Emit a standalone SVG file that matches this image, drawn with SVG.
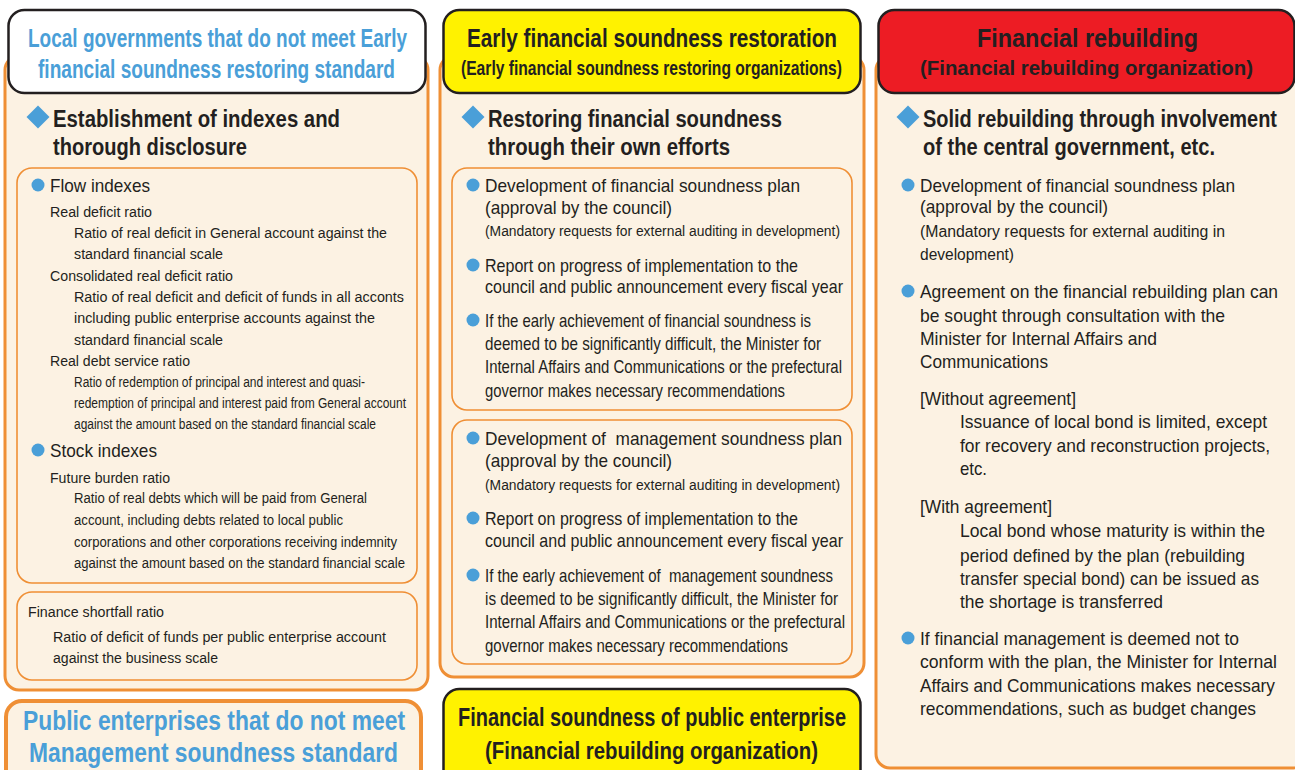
<svg xmlns="http://www.w3.org/2000/svg" width="1295" height="770" viewBox="0 0 1295 770">
<style>
text{font-family:"Liberation Sans",Arial,sans-serif;fill:#231f20}
.hb{font-weight:bold;fill:#4a9fd8}
.bk{font-weight:bold}
.pre{white-space:pre}
.outer{fill:#fcf2e3;stroke:#ef8f35;stroke-width:3}
.inner{fill:none;stroke:#ef8f35;stroke-width:1.6}
.hdr{stroke:#231f20;stroke-width:2.5}
.dot{fill:#4a9fd8}
.f26{font-size:25.5px}.f23{font-size:23px}.f22{font-size:21px}.f18{font-size:18.5px}.f16{font-size:16px}.f15{font-size:15.5px}
</style>
<rect width="1295" height="770" fill="#ffffff"/>
<defs>
<path id="dia" d="M0,-11.5 L11.5,0 L0,11.5 L-11.5,0 Z" fill="#4a9fd8"/>
</defs>

<g id="col1">
<rect class="outer" x="5" y="56" width="423" height="634" rx="14"/>
<rect class="hdr" x="8.5" y="10" width="417" height="83" rx="16" fill="#ffffff"/>
<text class="hb f26" x="28" y="47" textLength="379" lengthAdjust="spacingAndGlyphs">Local governments that do not meet Early</text>
<text class="hb f26" x="38" y="78" textLength="357" lengthAdjust="spacingAndGlyphs">financial soundness restoring standard</text>
<use href="#dia" x="38" y="117"/>
<text class="bk f23" x="53" y="127" textLength="287" lengthAdjust="spacingAndGlyphs">Establishment of indexes and</text>
<text class="bk f23" x="53" y="155" textLength="194" lengthAdjust="spacingAndGlyphs">thorough disclosure</text>
<rect class="inner" x="17" y="168" width="400" height="415" rx="15"/>
<circle class="dot" cx="38" cy="185" r="6.5"/>
<text class="f18" x="50" y="192" textLength="100" lengthAdjust="spacingAndGlyphs">Flow indexes</text>
<text class="f15" x="50" y="217" textLength="102" lengthAdjust="spacingAndGlyphs">Real deficit ratio</text>
<text class="f15" x="74" y="238" textLength="313" lengthAdjust="spacingAndGlyphs">Ratio of real deficit in General account against the</text>
<text class="f15" x="74" y="259" textLength="149" lengthAdjust="spacingAndGlyphs">standard financial scale</text>
<text class="f15" x="50" y="281" textLength="183" lengthAdjust="spacingAndGlyphs">Consolidated real deficit ratio</text>
<text class="f15" x="74" y="302" textLength="330" lengthAdjust="spacingAndGlyphs">Ratio of real deficit and deficit of funds in all acconts</text>
<text class="f15" x="74" y="323" textLength="301" lengthAdjust="spacingAndGlyphs">including public enterprise accounts against the</text>
<text class="f15" x="74" y="345" textLength="149" lengthAdjust="spacingAndGlyphs">standard financial scale</text>
<text class="f15" x="50" y="366" textLength="140" lengthAdjust="spacingAndGlyphs">Real debt service ratio</text>
<text class="f15" x="74" y="387" textLength="291" lengthAdjust="spacingAndGlyphs">Ratio of redemption of principal and interest and quasi-</text>
<text class="f15" x="74" y="408" textLength="332" lengthAdjust="spacingAndGlyphs">redemption of principal and interest paid from General account</text>
<text class="f15" x="74" y="429" textLength="302" lengthAdjust="spacingAndGlyphs">against the amount based on the standard financial scale</text>
<circle class="dot" cx="38" cy="450" r="6.5"/>
<text class="f18" x="50" y="457" textLength="107" lengthAdjust="spacingAndGlyphs">Stock indexes</text>
<text class="f15" x="50" y="483" textLength="120" lengthAdjust="spacingAndGlyphs">Future burden ratio</text>
<text class="f15" x="74" y="503" textLength="293" lengthAdjust="spacingAndGlyphs">Ratio of real debts which will be paid from General</text>
<text class="f15" x="74" y="525" textLength="269" lengthAdjust="spacingAndGlyphs">account, including debts related to local public</text>
<text class="f15" x="74" y="547" textLength="323" lengthAdjust="spacingAndGlyphs">corporations and other corporations receiving indemnity</text>
<text class="f15" x="74" y="568" textLength="331" lengthAdjust="spacingAndGlyphs">against the amount based on the standard financial scale</text>
<rect class="inner" x="17" y="592" width="400" height="88" rx="15"/>
<text class="f15" x="28" y="617" textLength="136" lengthAdjust="spacingAndGlyphs">Finance shortfall ratio</text>
<text class="f15" x="53" y="642" textLength="333" lengthAdjust="spacingAndGlyphs">Ratio of deficit of funds per public enterprise account</text>
<text class="f15" x="53" y="663" textLength="165" lengthAdjust="spacingAndGlyphs">against the business scale</text>
</g>

<g id="col1-bottom">
<rect x="6" y="701" width="415" height="90" rx="16" fill="#fcf2e3" stroke="#ef8f35" stroke-width="4"/>
<text class="hb" x="23" y="730" textLength="382" lengthAdjust="spacingAndGlyphs" style="font-size:27px">Public enterprises that do not meet</text>
<text class="hb" x="29" y="762" textLength="369" lengthAdjust="spacingAndGlyphs" style="font-size:27px">Management soundness standard</text>
</g>

<g id="col2">
<rect class="outer" x="440" y="56" width="424" height="621" rx="14"/>
<rect class="hdr" x="443.5" y="10" width="417" height="83" rx="16" fill="#fff200"/>
<text class="bk f26" x="467" y="47" textLength="370" lengthAdjust="spacingAndGlyphs">Early financial soundness restoration</text>
<text class="bk f22" x="461" y="75" textLength="381" lengthAdjust="spacingAndGlyphs">(Early financial soundness restoring organizations)</text>
<use href="#dia" x="473" y="117"/>
<text class="bk f23" x="488" y="127" textLength="294" lengthAdjust="spacingAndGlyphs">Restoring financial soundness</text>
<text class="bk f23" x="488" y="155" textLength="242" lengthAdjust="spacingAndGlyphs">through their own efforts</text>
<rect class="inner" x="452" y="168" width="400" height="242" rx="15"/>
<circle class="dot" cx="473" cy="185" r="6.5"/>
<text class="f18" x="485" y="192" textLength="315" lengthAdjust="spacingAndGlyphs">Development of financial soundness plan</text>
<text class="f18" x="485" y="214" textLength="187" lengthAdjust="spacingAndGlyphs">(approval by the council)</text>
<text class="f15" x="485" y="236" textLength="355" lengthAdjust="spacingAndGlyphs">(Mandatory requests for external auditing in development)</text>
<circle class="dot" cx="473" cy="265" r="6.5"/>
<text class="f18" x="485" y="272" textLength="313" lengthAdjust="spacingAndGlyphs">Report on progress of implementation to the</text>
<text class="f18" x="485" y="293" textLength="358" lengthAdjust="spacingAndGlyphs">council and public announcement every fiscal year</text>
<circle class="dot" cx="473" cy="320" r="6.5"/>
<text class="f18" x="485" y="327" textLength="326" lengthAdjust="spacingAndGlyphs">If the early achievement of financial soundness is</text>
<text class="f18" x="485" y="350" textLength="336" lengthAdjust="spacingAndGlyphs">deemed to be significantly difficult, the Minister for</text>
<text class="f18" x="485" y="373" textLength="357" lengthAdjust="spacingAndGlyphs">Internal Affairs and Communications or the prefectural</text>
<text class="f18" x="485" y="397" textLength="300" lengthAdjust="spacingAndGlyphs">governor makes necessary recommendations</text>
<rect class="inner" x="452" y="420" width="400" height="244" rx="15"/>
<circle class="dot" cx="473" cy="438" r="6.5"/>
<text class="f18 pre" x="485" y="445" textLength="357" lengthAdjust="spacingAndGlyphs">Development of  management soundness plan</text>
<text class="f18" x="485" y="467" textLength="187" lengthAdjust="spacingAndGlyphs">(approval by the council)</text>
<text class="f15" x="485" y="490" textLength="355" lengthAdjust="spacingAndGlyphs">(Mandatory requests for external auditing in development)</text>
<circle class="dot" cx="473" cy="518" r="6.5"/>
<text class="f18" x="485" y="525" textLength="313" lengthAdjust="spacingAndGlyphs">Report on progress of implementation to the</text>
<text class="f18" x="485" y="547" textLength="358" lengthAdjust="spacingAndGlyphs">council and public announcement every fiscal year</text>
<circle class="dot" cx="473" cy="575" r="6.5"/>
<text class="f18 pre" x="485" y="582" textLength="348" lengthAdjust="spacingAndGlyphs">If the early achievement of  management soundness</text>
<text class="f18" x="485" y="605" textLength="353" lengthAdjust="spacingAndGlyphs">is deemed to be significantly difficult, the Minister for</text>
<text class="f18" x="485" y="628" textLength="360" lengthAdjust="spacingAndGlyphs">Internal Affairs and Communications or the prefectural</text>
<text class="f18" x="485" y="652" textLength="303" lengthAdjust="spacingAndGlyphs">governor makes necessary recommendations</text>
</g>

<g id="col2-bottom">
<rect class="hdr" x="443.5" y="689" width="417" height="100" rx="16" fill="#fff200"/>
<text class="bk f26" x="458" y="726" textLength="388" lengthAdjust="spacingAndGlyphs">Financial soundness of public enterprise</text>
<text class="bk f23" x="485" y="759" textLength="333" lengthAdjust="spacingAndGlyphs">(Financial rebuilding organization)</text>
</g>

<g id="col3">
<rect class="outer" x="876" y="56" width="430" height="712" rx="14"/>
<rect class="hdr" x="878.5" y="10" width="416" height="83" rx="16" fill="#ed1c24"/>
<text class="bk f26" x="977" y="47" textLength="221" lengthAdjust="spacingAndGlyphs">Financial rebuilding</text>
<text class="bk f22" x="920" y="75" textLength="333" lengthAdjust="spacingAndGlyphs">(Financial rebuilding organization)</text>
<use href="#dia" x="908" y="117"/>
<text class="bk f23" x="923" y="127" textLength="354" lengthAdjust="spacingAndGlyphs">Solid rebuilding through involvement</text>
<text class="bk f23" x="923" y="155" textLength="292" lengthAdjust="spacingAndGlyphs">of the central government, etc.</text>
<circle class="dot" cx="908" cy="185" r="6.5"/>
<text class="f18" x="920" y="192" textLength="315" lengthAdjust="spacingAndGlyphs">Development of financial soundness plan</text>
<text class="f18" x="920" y="213" textLength="188" lengthAdjust="spacingAndGlyphs">(approval by the council)</text>
<text class="f16" x="920" y="237" textLength="305" lengthAdjust="spacingAndGlyphs">(Mandatory requests for external auditing in</text>
<text class="f16" x="920" y="260" textLength="94" lengthAdjust="spacingAndGlyphs">development)</text>
<circle class="dot" cx="908" cy="291" r="6.5"/>
<text class="f18" x="920" y="298" textLength="358" lengthAdjust="spacingAndGlyphs">Agreement on the financial rebuilding plan can</text>
<text class="f18" x="920" y="322" textLength="305" lengthAdjust="spacingAndGlyphs">be sought through consultation with the</text>
<text class="f18" x="920" y="345" textLength="237" lengthAdjust="spacingAndGlyphs">Minister for Internal Affairs and</text>
<text class="f18" x="920" y="368" textLength="128" lengthAdjust="spacingAndGlyphs">Communications</text>
<text class="f18" x="920" y="405" textLength="156" lengthAdjust="spacingAndGlyphs">[Without agreement]</text>
<text class="f18" x="960" y="428" textLength="307" lengthAdjust="spacingAndGlyphs">Issuance of local bond is limited, except</text>
<text class="f18" x="960" y="452" textLength="310" lengthAdjust="spacingAndGlyphs">for recovery and reconstruction projects,</text>
<text class="f18" x="960" y="475" textLength="27" lengthAdjust="spacingAndGlyphs">etc.</text>
<text class="f18" x="920" y="513" textLength="132" lengthAdjust="spacingAndGlyphs">[With agreement]</text>
<text class="f18" x="960" y="537" textLength="305" lengthAdjust="spacingAndGlyphs">Local bond whose maturity is within the</text>
<text class="f18" x="960" y="562" textLength="285" lengthAdjust="spacingAndGlyphs">period defined by the plan (rebuilding</text>
<text class="f18" x="960" y="585" textLength="299" lengthAdjust="spacingAndGlyphs">transfer special bond) can be issued as</text>
<text class="f18" x="960" y="608" textLength="203" lengthAdjust="spacingAndGlyphs">the shortage is transferred</text>
<circle class="dot" cx="908" cy="638" r="6.5"/>
<text class="f18" x="920" y="645" textLength="319" lengthAdjust="spacingAndGlyphs">If financial management is deemed not to</text>
<text class="f18" x="920" y="668" textLength="357" lengthAdjust="spacingAndGlyphs">conform with the plan, the Minister for Internal</text>
<text class="f18" x="920" y="692" textLength="355" lengthAdjust="spacingAndGlyphs">Affairs and Communications makes necessary</text>
<text class="f18" x="920" y="715" textLength="336" lengthAdjust="spacingAndGlyphs">recommendations, such as budget changes</text>
</g>

<g id="connectors"></g>
</svg>
